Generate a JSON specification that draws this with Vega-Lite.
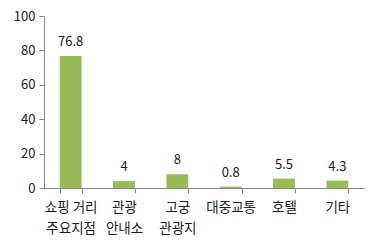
{
  "$schema": "https://vega.github.io/schema/vega-lite/v6.json",
  "width": 320,
  "height": 172,
  "autosize": "none",
  "padding": {"left": 44, "top": 16, "right": 15, "bottom": 60},
  "background": "white",
  "config": {
    "view": {"stroke": null},
    "font": "Noto Sans CJK KR"
  },
  "data": {
    "values": [
      {"category": "쇼핑 거리\n주요지점", "value": 76.8},
      {"category": "관광\n안내소", "value": 4},
      {"category": "고궁\n관광지", "value": 8},
      {"category": "대중교통", "value": 0.8},
      {"category": "호텔", "value": 5.5},
      {"category": "기타", "value": 4.3}
    ]
  },
  "encoding": {
    "x": {
      "field": "category",
      "type": "nominal",
      "sort": null,
      "scale": {"paddingInner": 0.59, "paddingOuter": 0.295},
      "axis": {
        "title": null,
        "labelAngle": 0,
        "labelExpr": "split(datum.label, '\\n')",
        "labelFontSize": 13.5,
        "labelColor": "#1a1a1a",
        "labelLineHeight": 21,
        "labelPadding": 7,
        "labelBaseline": "top",
        "tickBand": "extent",
        "tickSize": 5,
        "tickColor": "#868686",
        "domainColor": "#868686"
      }
    },
    "y": {
      "field": "value",
      "type": "quantitative",
      "scale": {"domain": [0, 100]},
      "axis": {
        "title": null,
        "values": [0, 20, 40, 60, 80, 100],
        "grid": false,
        "labelFontSize": 13,
        "labelColor": "#1a1a1a",
        "labelPadding": 4,
        "tickSize": 5,
        "tickColor": "#868686",
        "domainColor": "#868686"
      }
    }
  },
  "layer": [
    {"mark": {"type": "bar", "color": "#9BBB59"}},
    {
      "mark": {"type": "text", "dy": -10, "baseline": "alphabetic", "fontSize": 13, "color": "#1a1a1a"},
      "encoding": {"text": {"field": "value", "type": "quantitative"}}
    }
  ]
}
